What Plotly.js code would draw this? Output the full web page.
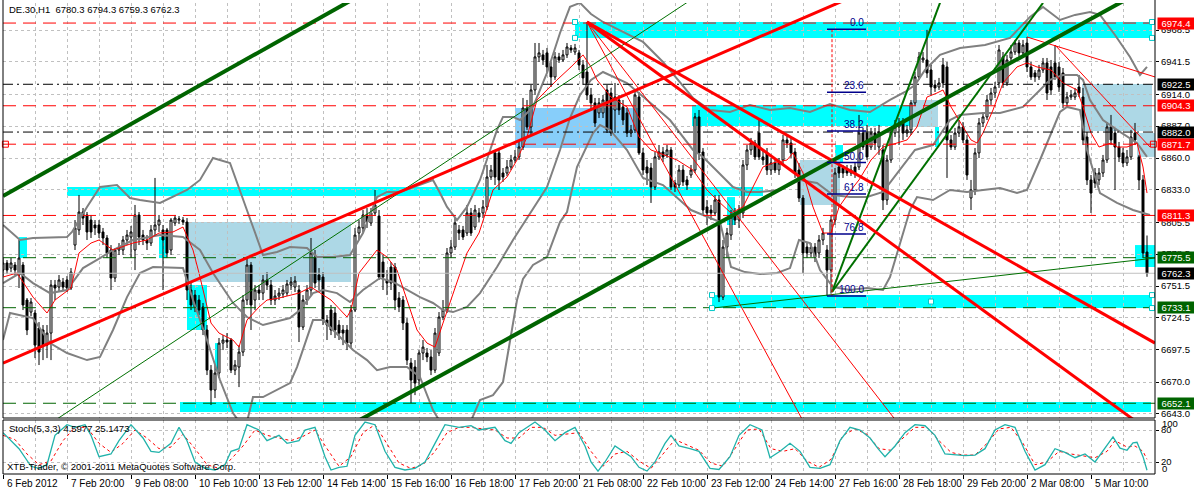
<!DOCTYPE html>
<html><head><meta charset="utf-8">
<script src="https://cdn.plot.ly/plotly-3.0.1.min.js"></script>
<style>html,body{margin:0;padding:0;background:#fff}#c{width:1194px;height:490px}</style>
</head><body><div id="c"></div>
<script>
// ---------- candle data (H1 bars, index 0 = first bar) ----------
const openP = [
6765.0,6771.0,6766.7,6769.3,6760.8,6769.3,6739.6,6729.4,6728.6,6715.9,
6714.2,6701.4,6711.6,6752.3,6750.6,6754.9,6756.6,6749.8,6786.2,6799.0,
6814.2,6811.7,6807.4,6803.2,6803.2,6797.3,6792.2,6782.0,6758.3,6782.0,
6782.0,6790.5,6793.0,6782.0,6811.7,6794.7,6790.5,6787.9,6799.0,6803.2,
6799.0,6799.0,6782.0,6804.9,6807.4,6807.4,6805.7,6748.1,6743.8,6739.6,
6733.7,6714.2,6680.2,6663.3,6677.7,6703.1,6705.7,6705.7,6680.2,6682.8,
6695.5,6739.6,6769.3,6739.6,6748.1,6745.5,6756.6,6752.3,6739.6,6743.0,
6744.7,6745.5,6752.3,6750.6,6748.1,6716.7,6739.6,6748.1,6776.1,6760.8,
6759.1,6722.6,6731.1,6728.6,6718.4,6714.2,6714.2,6703.1,6731.1,6796.4,
6800.7,6811.7,6804.9,6813.4,6810.8,6771.8,6756.6,6767.6,6767.6,6741.3,
6739.6,6720.1,6686.2,6682.8,6671.8,6694.7,6694.7,6691.3,6680.2,6694.7,
6725.2,6731.1,6779.5,6784.5,6799.0,6799.0,6796.4,6813.4,6801.5,6813.4,
6813.4,6818.5,6843.9,6864.3,6864.3,6847.3,6847.3,6852.4,6858.3,6860.9,
6869.3,6902.4,6886.3,6917.7,6945.7,6947.4,6949.1,6937.2,6928.7,6945.7,
6943.1,6947.4,6953.3,6949.9,6949.1,6938.9,6932.9,6913.4,6906.7,6898.2,
6898.2,6917.7,6915.1,6900.7,6909.2,6903.3,6898.2,6881.2,6883.8,6911.7,
6864.3,6852.4,6851.5,6835.4,6860.9,6865.1,6862.6,6866.8,6838.8,6837.1,
6849.8,6841.4,6845.6,6849.8,6894.8,6865.1,6818.5,6815.9,6813.4,6824.4,
6742.1,6784.5,6794.7,6813.4,6807.4,6813.4,6854.1,6866.8,6872.7,6881.2,
6860.9,6864.3,6849.8,6855.8,6849.8,6858.3,6875.3,6872.7,6865.1,6849.8,
6826.1,6784.5,6779.5,6784.5,6779.5,6790.5,6782.0,6765.0,6807.4,6852.4,
6851.5,6849.8,6847.3,6852.4,6852.4,6881.2,6881.2,6869.3,6881.2,6869.3,
6866.8,6824.4,6858.3,6881.2,6886.3,6889.7,6881.2,6883.8,6906.7,6928.7,
6943.1,6943.1,6934.6,6921.9,6920.2,6938.9,6937.2,6875.3,6869.3,6881.2,
6886.3,6875.3,6826.1,6832.9,6864.3,6889.7,6894.8,6909.2,6915.1,6923.6,
6945.7,6923.6,6944.8,6949.9,6957.5,6949.1,6957.5,6937.2,6932.1,6928.7,
6934.6,6940.6,6937.2,6940.6,6937.2,6932.1,6906.7,6911.7,6911.7,6920.2,
6911.7,6877.8,6841.4,6847.3,6841.4,6847.3,6858.3,6886.3,6881.2,6869.3,
6864.3,6855.8,6860.9,6881.2,6860.9,6841.4,6780.3];
const highP = [
6775.2,6773.5,6775.2,6771.8,6790.5,6771.8,6741.3,6741.3,6731.1,6720.9,
6718.4,6718.4,6756.6,6756.6,6760.8,6758.3,6759.9,6766.7,6807.4,6828.6,
6817.6,6814.2,6811.7,6807.4,6807.4,6800.7,6794.7,6786.2,6783.7,6787.9,
6793.9,6799.0,6802.4,6820.2,6814.2,6799.0,6794.7,6803.2,6843.1,6811.7,
6803.2,6800.7,6809.1,6811.7,6810.8,6810.0,6809.1,6754.0,6748.1,6743.8,
6737.1,6718.4,6684.5,6684.5,6707.4,6709.9,6711.6,6707.4,6688.7,6701.4,
6743.8,6775.2,6771.8,6752.3,6752.3,6760.8,6763.3,6756.6,6748.1,6749.8,
6752.3,6756.6,6759.1,6759.9,6752.3,6743.8,6752.3,6792.2,6782.0,6766.7,
6763.3,6726.9,6735.4,6732.8,6722.6,6718.4,6718.4,6735.4,6800.7,6807.4,
6815.9,6817.6,6817.6,6832.9,6815.9,6777.8,6765.0,6771.8,6771.0,6746.4,
6743.0,6724.3,6690.4,6688.7,6697.2,6705.7,6698.9,6697.2,6715.9,6729.4,
6739.6,6783.7,6790.5,6809.1,6803.2,6802.4,6820.2,6817.6,6820.2,6817.6,
6824.4,6854.1,6854.1,6866.8,6868.5,6851.5,6858.3,6862.6,6866.8,6875.3,
6910.9,6909.2,6921.9,6957.5,6957.5,6951.6,6953.3,6941.4,6949.9,6949.1,
6951.6,6957.5,6955.8,6956.7,6951.6,6943.1,6975.3,6919.4,6910.9,6910.9,
6913.4,6921.9,6919.4,6923.6,6913.4,6909.2,6902.4,6888.0,6917.7,6916.0,
6868.5,6858.3,6855.8,6865.1,6871.0,6869.3,6871.0,6869.3,6841.4,6854.1,
6854.1,6844.8,6854.1,6898.2,6900.7,6868.5,6824.4,6820.2,6828.6,6828.6,
6790.5,6800.7,6815.9,6817.6,6820.2,6858.3,6871.0,6877.0,6875.3,6892.2,
6866.8,6868.5,6860.0,6860.0,6860.0,6879.5,6879.5,6877.0,6868.5,6855.8,
6828.6,6788.8,6787.9,6787.9,6794.7,6800.7,6786.2,6811.7,6851.5,6855.8,
6854.1,6854.1,6854.1,6855.8,6896.5,6885.5,6888.0,6885.5,6885.5,6888.0,
6871.0,6862.6,6885.5,6892.2,6893.9,6893.9,6888.0,6909.2,6932.9,6949.9,
6949.9,6968.6,6938.9,6926.2,6927.9,6944.8,6941.4,6879.5,6885.5,6892.2,
6890.5,6879.5,6841.4,6868.5,6893.9,6899.0,6913.4,6919.4,6924.5,6955.8,
6949.9,6947.4,6955.8,6960.1,6960.1,6960.1,6962.6,6941.4,6934.6,6938.9,
6944.8,6944.8,6943.1,6955.8,6941.4,6936.3,6916.0,6917.7,6919.4,6930.4,
6919.4,6882.1,6845.6,6851.5,6851.5,6862.6,6890.5,6896.5,6885.5,6873.6,
6868.5,6866.8,6883.8,6889.7,6862.6,6845.6,6794.3];
const lowP = [
6759.9,6761.6,6763.3,6760.8,6749.8,6731.1,6709.9,6726.0,6690.4,6684.5,
6688.7,6690.4,6688.7,6739.6,6746.4,6748.1,6746.4,6748.1,6782.0,6794.7,
6803.2,6790.5,6792.2,6794.7,6792.2,6786.2,6775.2,6748.1,6754.9,6777.8,
6777.8,6786.2,6775.2,6765.0,6786.2,6786.2,6782.0,6785.4,6794.7,6797.3,
6748.1,6775.2,6777.8,6802.4,6804.0,6803.2,6739.6,6731.1,6729.4,6726.9,
6709.9,6676.0,6650.6,6656.5,6673.5,6697.2,6698.9,6677.7,6676.0,6665.8,
6692.1,6735.4,6714.2,6731.1,6739.6,6739.6,6748.1,6735.4,6735.4,6739.6,
6741.3,6743.0,6748.1,6746.4,6704.0,6714.2,6735.4,6743.8,6749.8,6748.1,
6718.4,6705.7,6709.9,6707.4,6705.7,6701.4,6697.2,6698.9,6729.4,6790.5,
6797.3,6800.7,6802.4,6810.8,6756.6,6748.1,6743.8,6748.1,6731.1,6729.4,
6714.2,6684.5,6652.3,6659.0,6667.5,6688.7,6687.0,6676.0,6677.7,6692.1,
6722.6,6728.6,6775.2,6782.0,6790.5,6790.5,6793.9,6793.9,6799.0,6805.7,
6809.1,6815.9,6841.4,6837.1,6832.9,6839.7,6844.8,6849.8,6855.8,6858.3,
6866.8,6883.8,6879.5,6913.4,6941.4,6938.9,6932.9,6920.2,6926.2,6940.6,
6941.4,6944.8,6949.1,6947.4,6934.6,6921.9,6909.2,6900.7,6886.3,6893.9,
6893.9,6881.2,6878.7,6881.2,6896.5,6888.0,6877.8,6877.8,6881.2,6862.6,
6845.6,6837.1,6821.9,6832.9,6858.3,6856.6,6860.0,6832.9,6831.2,6834.6,
6836.3,6832.9,6843.1,6847.3,6858.3,6811.7,6803.2,6807.4,6810.8,6737.9,
6739.6,6775.2,6790.5,6803.2,6800.7,6809.1,6849.8,6862.6,6858.3,6858.3,
6854.1,6845.6,6845.6,6847.3,6845.6,6854.1,6868.5,6860.0,6843.1,6822.7,
6762.5,6775.2,6776.1,6771.8,6775.2,6786.2,6743.0,6745.0,6803.2,6843.1,
6843.1,6844.8,6844.8,6843.1,6849.8,6866.8,6858.3,6866.8,6866.8,6862.6,
6815.9,6820.2,6855.8,6877.8,6871.0,6875.3,6877.8,6879.5,6904.1,6926.2,
6940.6,6927.9,6913.4,6916.0,6917.7,6919.4,6843.1,6866.8,6866.8,6877.8,
6872.7,6841.4,6815.9,6828.6,6860.0,6886.3,6892.2,6905.0,6910.9,6919.4,
6919.4,6921.1,6941.4,6947.4,6945.7,6945.7,6932.9,6926.2,6924.5,6926.2,
6932.1,6909.2,6913.4,6926.2,6916.0,6902.4,6904.1,6909.2,6909.2,6911.7,
6871.0,6837.1,6813.4,6834.6,6837.1,6843.9,6855.8,6871.0,6832.9,6856.6,
6852.4,6853.2,6858.3,6871.0,6832.9,6775.2,6759.3];
const closeP = [
6771.0,6765.0,6771.0,6765.0,6775.2,6735.4,6714.2,6737.9,6701.4,6695.5,
6701.4,6711.6,6752.3,6749.8,6756.6,6750.6,6749.8,6763.3,6800.7,6814.2,
6809.1,6797.3,6797.3,6800.7,6796.4,6792.2,6779.5,6758.3,6782.0,6784.5,
6790.5,6794.7,6797.3,6811.7,6793.0,6790.5,6787.9,6799.0,6803.2,6807.4,
6790.5,6779.5,6807.4,6809.1,6808.3,6805.7,6748.1,6735.4,6733.7,6731.1,
6714.2,6680.2,6663.3,6677.7,6703.1,6705.7,6704.0,6680.2,6684.5,6695.5,
6739.6,6769.3,6735.4,6748.1,6745.5,6756.6,6752.3,6739.6,6743.0,6745.5,
6748.1,6753.2,6754.9,6755.7,6716.7,6739.6,6748.1,6779.5,6754.0,6756.6,
6722.6,6718.4,6714.2,6714.2,6711.6,6711.6,6703.1,6731.1,6794.7,6801.5,
6811.7,6805.7,6813.4,6820.2,6759.1,6759.1,6754.0,6754.0,6739.6,6733.7,
6720.1,6688.7,6671.8,6669.2,6694.7,6699.7,6691.3,6680.2,6711.6,6725.2,
6731.1,6779.5,6784.5,6804.9,6796.4,6793.0,6813.4,6796.4,6815.9,6810.0,
6818.5,6843.9,6849.8,6843.9,6841.4,6843.9,6852.4,6858.3,6860.9,6869.3,
6902.4,6886.3,6917.7,6945.7,6949.1,6943.1,6937.2,6928.7,6945.7,6943.1,
6947.4,6954.1,6951.6,6953.3,6938.9,6927.9,6913.4,6906.7,6889.7,6906.7,
6909.2,6883.8,6881.2,6911.7,6900.7,6892.2,6881.2,6883.8,6913.4,6864.3,
6849.8,6847.3,6835.4,6860.9,6865.1,6860.9,6866.8,6835.4,6835.4,6849.8,
6839.7,6837.1,6849.8,6894.8,6864.3,6815.9,6813.4,6813.4,6824.4,6742.1,
6784.5,6796.4,6810.0,6807.4,6815.9,6854.1,6866.8,6872.7,6860.9,6860.9,
6858.3,6849.8,6855.8,6849.8,6855.8,6875.3,6872.7,6864.3,6847.3,6826.1,
6779.5,6779.5,6784.5,6776.1,6790.5,6796.4,6765.0,6807.4,6847.3,6847.3,
6847.3,6847.3,6849.8,6847.3,6881.2,6869.3,6860.9,6881.2,6872.7,6882.1,
6824.4,6858.3,6881.2,6886.3,6889.7,6881.2,6883.8,6906.7,6928.7,6945.7,
6944.8,6932.1,6920.2,6919.4,6923.6,6923.6,6875.3,6869.3,6881.2,6886.3,
6875.3,6845.6,6832.9,6864.3,6889.7,6894.8,6909.2,6915.1,6920.2,6951.6,
6923.6,6943.1,6949.9,6957.5,6949.1,6955.8,6937.2,6928.7,6928.7,6934.6,
6940.6,6915.1,6917.7,6928.7,6920.2,6906.7,6911.7,6913.4,6915.1,6915.1,
6875.3,6841.4,6830.3,6838.8,6847.3,6858.3,6886.3,6875.3,6869.3,6860.9,
6855.8,6860.9,6877.8,6875.3,6841.4,6779.5,6762.3];

// ---------- indicator readings (bar index, value) ----------
const maX = [0,3.5,7.5,11,13,17,19,22,24,27.5,32.5,36,39,42.5,45,47.5,49,52,54,57.5,59,61,64,66,69,74,77,82,86,87,89,93.5,96,98.5,101,103.5,106,108,110,112.5,116,119,122.5,126,128.5,131,133.5,136,138.5,142,145,147,148.5,152,156,159,162,164,168.5,172.5,176,178.5,182,185,187.5,190,192.5,196,197.5,200,202.5,205,207,209,212,214,217,220,223.5,226,228.5,231,233.5,235,237,239,242,243.5,245,247.5,250,253.5,256,258.5,262,265,268.5,270,272,274,277,278.5,281,283.5,285,286];
const maY = [6759.1,6762.5,6742.1,6728.6,6739.6,6749.8,6779.5,6787.9,6790.5,6782.0,6787.9,6790.5,6796.4,6797.3,6801.5,6782.0,6762.5,6720.1,6711.6,6705.7,6699.7,6722.6,6733.7,6739.6,6741.3,6745.5,6750.6,6739.6,6725.2,6731.1,6762.5,6782.0,6776.1,6765.0,6739.6,6714.2,6703.1,6699.7,6720.1,6745.5,6779.5,6796.4,6832.9,6843.9,6858.3,6877.8,6909.2,6917.7,6926.2,6937.2,6947.4,6937.2,6926.2,6911.7,6903.3,6877.8,6866.8,6864.3,6858.3,6849.8,6832.9,6824.4,6813.4,6818.5,6835.4,6852.4,6855.8,6858.3,6864.3,6847.3,6818.5,6796.4,6796.4,6818.5,6832.9,6841.4,6858.3,6869.3,6872.7,6875.3,6886.3,6911.7,6915.1,6917.7,6903.3,6892.2,6875.3,6872.7,6881.2,6900.7,6923.6,6937.2,6940.6,6937.2,6934.6,6923.6,6917.7,6903.3,6881.2,6869.3,6872.7,6869.3,6869.3,6872.7,6852.4,6830.3];

const bbUpX = [0,4.25,7.5,16,17.25,21,24.25,28.5,31.75,34.25,39.25,46,49.25,52.5,56.75,59.25,62.5,65,68.5,71.75,76,78.5,82.5,86.75,90,93.5,96,99.25,102.5,105,107.5,109.25,111,113.5,116,119.25,121.75,123.5,125,127.5,129.25,132.5,136,139.25,141.75,144.25,147,150,155,160,165,169.25,172.5,176.75,181.75,186.75,191.75,196.75,201.75,206.75,211.75,216.75,221.75,225.5,228,230.5,234.25,239.25,245.5,251.75,256.75,260,264.25,268,271.75,274.25,278,281.75,284.25,286];
const bbUpY = [6803.2,6790.5,6792.2,6793.0,6797.3,6818.5,6835.4,6837.1,6826.1,6824.4,6821.9,6832.9,6841.4,6860.0,6855.8,6832.9,6801.5,6777.8,6780.3,6784.5,6783.7,6776.1,6776.1,6777.8,6796.4,6826.9,6831.2,6831.2,6835.4,6838.8,6841.4,6830.3,6818.5,6807.4,6818.5,6841.4,6866.8,6883.8,6894.8,6894.8,6892.2,6903.3,6932.1,6966.0,6988.1,6991.5,6982.1,6975.3,6966.9,6958.4,6941.4,6923.6,6910.9,6900.7,6899.0,6905.0,6900.7,6902.4,6899.0,6905.8,6900.7,6899.0,6909.2,6916.0,6921.9,6934.6,6947.4,6953.3,6955.8,6961.8,6979.6,6988.1,6977.0,6981.3,6983.8,6981.3,6964.3,6945.7,6930.4,6937.2];
const bbMidX = [0,4.25,7.5,11.75,16,20,24.25,27.5,32.5,39.25,45,49.25,52.5,57.5,61,65,71.75,74.25,77.5,80,83.5,86.75,90,94.25,97.5,101,104.25,107.5,110,112.5,116,119.25,123.5,127.5,131.75,136,139.25,141.75,144.25,147,150,156,161,166.75,172.5,175,179.25,182.5,186,189.25,194.25,199.25,203.5,207.5,211.75,216,220,224.25,228,232.5,236.75,239.25,245,249.25,255,259.25,261.75,265,268.5,270,271.75,275,278.5,283.5,286];
const bbMidY = [6754.0,6762.5,6754.0,6745.5,6748.1,6766.7,6775.2,6782.0,6790.5,6794.7,6793.0,6782.0,6762.5,6737.1,6725.2,6718.4,6724.3,6731.1,6745.5,6748.1,6745.5,6737.9,6748.1,6758.3,6754.9,6748.1,6742.1,6737.1,6731.1,6729.4,6733.7,6745.5,6767.6,6790.5,6813.4,6835.4,6866.8,6893.9,6913.4,6926.2,6932.9,6923.6,6909.2,6892.2,6866.8,6860.9,6846.4,6835.4,6831.2,6831.2,6832.9,6841.4,6838.8,6828.6,6826.9,6826.9,6831.2,6849.8,6866.8,6871.0,6892.2,6896.5,6898.2,6898.2,6903.3,6917.7,6926.2,6930.4,6930.4,6926.2,6909.2,6892.2,6883.8,6872.7,6860.9];
const bbLoX = [0,1.75,7.5,11.75,16,21,24.25,27.5,31,34.25,37.5,45,47.5,51,54.25,57.5,60.5,62.5,65,71.75,73.5,77.5,80,84.25,87.5,91,93.5,96.75,101,104.25,107.5,110.5,116,119.25,122.5,125,126.75,128.5,130,132.5,136,139.25,141,143.5,147.5,149.25,151.75,156,160,165,172,179.25,182,185.5,189.25,193.5,196.75,199,201.75,204.25,207.5,211.75,216,220,221.75,224.25,226.75,228.5,232.5,236.75,241,245,249.25,253.5,256,259.25,261.75,264.25,266,269.25,271,274.25,278.5,282.5,286.75];
const bbLoY = [6705.7,6728.6,6724.3,6703.1,6694.7,6688.7,6691.3,6714.2,6742.1,6762.5,6767.6,6766.7,6739.6,6705.7,6671.8,6643.8,6629.4,6657.3,6657.3,6669.2,6682.8,6722.6,6722.6,6708.2,6697.2,6688.7,6680.2,6682.8,6682.8,6674.3,6646.3,6629.4,6629.4,6654.8,6659.0,6670.1,6705.7,6739.6,6757.4,6769.3,6776.1,6805.7,6814.2,6852.4,6881.2,6888.0,6883.8,6866.8,6843.1,6837.1,6815.9,6805.7,6767.6,6763.3,6761.6,6762.5,6766.7,6790.5,6787.9,6765.0,6750.6,6748.1,6749.8,6748.1,6759.1,6787.9,6815.9,6826.9,6824.4,6832.9,6831.2,6832.9,6834.6,6830.3,6832.9,6858.3,6879.5,6899.0,6903.3,6900.7,6866.8,6830.3,6821.9,6815.9,6811.7];

// Stochastic (5,3,3): main (teal) and signal (red dashed)
const stMainX = [0,2,4,7,9,11,13,16,18,20.5,22,24,27,29,32,35,37,39,42,44,46,48,50.5,53,55.5,57,59,61,64,66,69,71,74,75.5,78,80.5,82,84,86,88,90.5,93,95.5,98,100.5,103,105.5,108,110.5,114,117,119,123,125.5,127,129,133,135.5,138,140.5,143,145.5,147,148.75,150.5,153,155.5,157,159,161,163,165.5,167,169,171.75,174,176.75,179,181.75,184,186.75,189.75,191.75,194.25,196.75,199.25,201.75,204.25,206.75,209.25,211.75,214.25,216.75,218.75,220.5,223,225.5,228,230.5,233,235.5,238,240.5,243,245.5,248,250.5,253,255.5,258,260.5,263,265.5,268,270.5,273,275.5,277.5,279.25,281,282.5,283.5,285,286];
const stMainY = [75,60,45,12,8,15,70,90,85,90,70,30,35,60,90,65,40,38,55,85,60,20,8,5,15,40,45,90,80,60,70,55,60,80,85,30,5,10,12,70,95,90,40,10,5,8,20,55,90,85,88,80,85,60,55,75,95,80,60,75,85,50,20,3,20,50,38,30,10,3,20,55,70,50,45,40,8,6,30,70,90,80,28,40,55,40,10,8,15,60,85,80,65,45,30,50,75,90,88,70,35,33,32,33,45,80,90,85,40,5,15,45,38,28,35,20,45,67,46,42,56,57,30,4.5977];
const stSigX = [0,3,6,9,12,15,18,21,24,27,30,33,36,39,42,45,48,51,54,57,60,63,66,69,72,75,78,81,84,87,90,93,96,99,102,105,108,111,114,117,120,123,126,129,132,135,138,141,144,147,150,153,156,159,162,165,168,171,174,177,180,183,186,189,192,195,198,201,204,207,210,213,216,219,222,225,228,231,234,237,240,243,246,249,252,255,258,261,264,267,270,273,276,278,281,283,285,286];
const stSigY = [70,62,35,15,22,60,85,85,55,38,55,80,65,45,48,72,45,15,8,25,50,80,70,65,60,68,80,45,12,30,75,90,55,18,8,15,40,75,85,85,82,80,65,65,85,85,70,72,75,40,12,35,40,22,8,35,62,52,42,18,12,45,80,82,45,40,45,22,10,25,70,82,72,45,42,65,85,85,60,38,33,33,55,82,85,55,15,20,40,35,32,28,40,60,48,50,40,25.1473];

// ---------- horizontal levels ----------
const redLevels = [6974.4, 6904.3, 6871.7, 6811.3];
const blackLevels = [6922.5, 6882.0];
const greenLevels = [6775.5, 6733.1, 6652.1];
const bidPrice = 6762.3;

// ---------- trend lines: [x0, y0, x1, y1] in (bar index, price) ----------
const greenThick = [[0,6827.8,90,6999.3],[84,6628.3,290,7011.5]];
const redThick = [[0,6686.2,215,7000.5],[146,6975.3,288,6703.1],[146,6975.3,290,6620.0]];
const greenThin = [[10,6630.9,175,7000.8],[177.5,6732.8,288,6775.2]];
const greenMid = [[207.25,6746.4,236,7007.4],[207.25,6746.4,260,6991.5]];
const redThin = [[146,6975.3,202.6,6620.9],[146,6975.3,227,6620.9],[256,6962.6,288,6928.7],[263,6955.8,286.75,6869.3]];

// ---------- rectangles: [x0, x1, priceTop, priceBottom] ----------
const cyanRects = [[143,287.25,6975.3,6961.8],[172.25,227.25,6905.0,6887.2],[16,190,6835.4,6827.8],[44.25,287,6653.1,6644.6],[177.25,287.25,6743.8,6732.8],
 [4,6,6793.0,6775.2],[39,41,6793.0,6775.2],[46,51,6752.3,6714.2],[53,54,6703.1,6680.2],[181,183,6826.9,6803.2],[208,210,6871.0,6856.6],[233,234,6886.3,6869.3],[283,288,6786.2,6767.6]];
const lightRects = [[46,87,6805.7,6754.9],[199.25,209.25,6858.3,6820.2],[227.25,233.75,6909.2,6886.3],[269.75,287.25,6922.8,6882.9],[283.5,288,6881.2,6860.9]];
const skyRects = [[128,159.25,6902.4,6868.5]];
const handleX = [143,143,287.25,287.25,177.25,177.25,287.25,287.25,232];
const handleY = [6975.3,6961.8,6975.3,6961.8,6743.8,6732.8,6743.8,6732.8,6738.3];

// ---------- fibonacci ----------
const fibLabels = ['0.0','23.6','38.2','50.0','61.8','76.8','100.0'];
const fibPrices = [6969.2,6915.8,6882.8,6856.1,6829.4,6795.5,6743.0];
const fibX = [206, 215.75];
const fibDiag = [[207.25,6969.2],[207.25,6743.0]];

// ---------- axes labels ----------
const xTickIdx = [0,16,32,48,64,80,96,112,128,144,160,176,192,208,224,240,256,272];
const xTickText = ['6 Feb 2012','7 Feb 20:00','9 Feb 08:00','10 Feb 10:00','13 Feb 12:00','14 Feb 14:00','15 Feb 16:00','16 Feb 18:00','17 Feb 20:00','21 Feb 08:00','22 Feb 10:00','23 Feb 12:00','24 Feb 14:00','27 Feb 16:00','28 Feb 18:00','29 Feb 20:00','2 Mar 08:00','5 Mar 10:00'];
const yTickVals = [6968.5,6941.5,6914.0,6887.0,6860.0,6833.0,6805.5,6778.5,6751.5,6724.5,6697.5,6670.0,6643.0];

const FONT = 'Liberation Sans, Arial, sans-serif';
const FS = 9.5;
const idx = openP.map((_, i) => i);
const traces = [];

traces.push({type:'candlestick', x: idx, open: openP, high: highP, low: lowP, close: closeP,
  xaxis:'x', yaxis:'y', whiskerwidth: 0, hoverinfo:'skip',
  increasing:{line:{color:'#000', width:1}, fillcolor:'#fff'},
  decreasing:{line:{color:'#000', width:1}, fillcolor:'#000'}});

function line(x, y, color, width, dash, ax){
  traces.push({type:'scatter', mode:'lines', x:x, y:y, xaxis:'x', yaxis:ax||'y', hoverinfo:'skip',
    line:{color:color, width:width, dash:dash||'solid'}});
}
line(bbUpX, bbUpY, '#808080', 2);
line(bbMidX, bbMidY, '#808080', 2);
line(bbLoX, bbLoY, '#808080', 2);
line(maX, maY, '#ff0000', 1);

line([0,288],[bidPrice,bidPrice],'#c0c0c0',1);
redLevels.forEach(v => line([0,288],[v,v],'#ff0000',1,'13px,7px'));
blackLevels.forEach(v => line([0,288],[v,v],'#000000',1,'10px,4px,2px,4px'));
greenLevels.forEach(v => line([0,288],[v,v],'#006400',1,'13px,7px'));

redThin.forEach(s => line([s[0],s[2]],[s[1],s[3]],'#ff0000',1));
greenThin.forEach(s => line([s[0],s[2]],[s[1],s[3]],'#007000',1));
greenMid.forEach(s => line([s[0],s[2]],[s[1],s[3]],'#007000',2));
redThick.forEach(s => line([s[0],s[2]],[s[1],s[3]],'#ff0000',3));
greenThick.forEach(s => line([s[0],s[2]],[s[1],s[3]],'#006400',4));

// fib
line([fibDiag[0][0],fibDiag[1][0]],[fibDiag[0][1],fibDiag[1][1]],'#ff0000',1,'3px,2px');
fibPrices.forEach(p => line(fibX,[p,p],'#00008b',1.5));

// object handles
traces.push({type:'scatter', mode:'markers', x:handleX, y:handleY, xaxis:'x', yaxis:'y', hoverinfo:'skip', cliponaxis:false,
  marker:{symbol:'square', size:5, color:'#fff', line:{color:'#00c8c8', width:1}}});
traces.push({type:'scatter', mode:'markers', x:[0.6,287.6], y:[6871.7,6871.7], xaxis:'x', yaxis:'y', hoverinfo:'skip', cliponaxis:false,
  marker:{symbol:'square-open', size:6, color:'#ff0000', line:{width:1}}});

// stochastic
line(stSigX, stSigY, '#ff0000', 1, '3px,3px', 'y2');
line(stMainX, stMainY, '#20b2aa', 1.3, 'solid', 'y2');

// shapes (rectangles + frames)
const shapes = [];
function rect(r, color){
  shapes.push({type:'rect', xref:'x', yref:'y', x0:r[0], x1:r[1], y0:r[3], y1:r[2],
    fillcolor:color, line:{width:0}, layer:'below'});
}
cyanRects.forEach(r => rect(r, '#00ffff'));
lightRects.forEach(r => rect(r, '#add8e6'));
skyRects.forEach(r => rect(r, '#87cefa'));

const H = 471; // plot height (px 3..474)
const mainBot = (474-418)/H, stochTop = (474-420)/H;
shapes.push({type:'rect', xref:'paper', yref:'paper', x0:0, x1:1, y0:mainBot, y1:1.03, line:{color:'#000', width:1}, fillcolor:'rgba(0,0,0,0)', layer:'above'});
shapes.push({type:'rect', xref:'paper', yref:'paper', x0:0, x1:1, y0:0, y1:stochTop, line:{color:'#000', width:1}, fillcolor:'rgba(0,0,0,0)', layer:'above'});

// annotations
const ann = [];
xTickIdx.forEach((v, k) => ann.push({xref:'x', yref:'paper', x:v, y:(474-483)/H, text:xTickText[k], showarrow:false,
  xanchor:'left', yanchor:'middle', xshift:2, font:{family:FONT, size:10, color:'#000'}}));

const tagLevels = [[6974.4,'#ff0000'],[6922.5,'#000000'],[6904.3,'#ff0000'],[6882.0,'#000000'],[6871.7,'#ff0000'],[6811.3,'#ff0000'],[6775.5,'#006400'],[bidPrice,'#000000'],[6733.1,'#006400'],[6652.1,'#006400']];
tagLevels.forEach(t => ann.push({xref:'paper', yref:'y', x:(1157-3)/1152, y:t[0], text:t[0].toFixed(1), showarrow:false,
  xanchor:'left', yanchor:'middle', bgcolor:t[1], borderpad:0, width:36, height:11, align:'center',
  font:{family:FONT, size:FS, color:'#fff'}}));

fibPrices.forEach((p, k) => ann.push({xref:'x', yref:'y', x:fibX[1], y:p, text:fibLabels[k], showarrow:false,
  xanchor:'right', yanchor:'bottom', yshift:-1, font:{family:FONT, size:10, color:'#00008b'}}));

ann.push({xref:'paper', yref:'paper', x:4/1152, y:(474-10)/H, text:'DE.30,H1  6780.3 6794.3 6759.3 6762.3', showarrow:false,
  xanchor:'left', yanchor:'middle', font:{family:FONT, size:FS, color:'#000'}});
ann.push({xref:'paper', yref:'paper', x:4/1152, y:(474-428)/H, text:'Stoch(5,3,3) 4.5977 25.1473', showarrow:false,
  xanchor:'left', yanchor:'middle', font:{family:FONT, size:FS, color:'#000'}});
ann.push({xref:'paper', yref:'paper', x:2/1152, y:(474-466)/H, text:'XTB-Trader, © 2001-2011 MetaQuotes Software Corp.', showarrow:false,
  xanchor:'left', yanchor:'middle', font:{family:FONT, size:FS, color:'#000'}});
ann.push({xref:'paper', yref:'paper', x:(1160-3)/1152, y:(474-423)/H, text:'100', showarrow:false,
  xanchor:'left', yanchor:'middle', font:{family:FONT, size:FS, color:'#000'}});
ann.push({xref:'paper', yref:'paper', x:(1160-3)/1152, y:(474-468)/H, text:'0', showarrow:false,
  xanchor:'left', yanchor:'middle', font:{family:FONT, size:FS, color:'#000'}});

const grid = {showgrid:true, gridcolor:'#c0c0c0', griddash:'3px,3px', gridwidth:1};
const layout = {
  width:1194, height:490, margin:{l:3, r:39, t:3, b:16},
  paper_bgcolor:'#fff', plot_bgcolor:'#fff', showlegend:false,
  font:{family:FONT, size:FS, color:'#000'},
  xaxis:Object.assign({range:[0,288], anchor:'y2', tickmode:'array', tickvals:xTickIdx, showticklabels:false,
    ticks:'outside', ticklen:4, tickcolor:'#000', zeroline:false, rangeslider:{visible:false}, fixedrange:true,
    minor:{tickmode:'linear', tick0:0, dtick:8, showgrid:true, gridcolor:'#c0c0c0', griddash:'3px,3px', ticks:''}}, grid),
  yaxis:Object.assign({domain:[mainBot,1], range:[6639.6,6991.4], side:'right', anchor:'x', tickmode:'array',
    tickvals:yTickVals, ticktext:yTickVals.map(v=>v.toFixed(1)), ticks:'outside', ticklen:3, tickcolor:'#000',
    zeroline:false, fixedrange:true, tickfont:{family:FONT, size:FS}}, grid),
  yaxis2:Object.assign({domain:[0,stochTop], range:[-2.5,98.75], side:'right', anchor:'x', tickmode:'array',
    tickvals:[20,80], ticktext:['20','80'], ticks:'outside', ticklen:3, tickcolor:'#000', zeroline:false,
    fixedrange:true, tickfont:{family:FONT, size:FS}}, grid),
  shapes:shapes, annotations:ann
};
Plotly.newPlot('c', traces, layout, {staticPlot:true, displayModeBar:false});
</script></body></html>
